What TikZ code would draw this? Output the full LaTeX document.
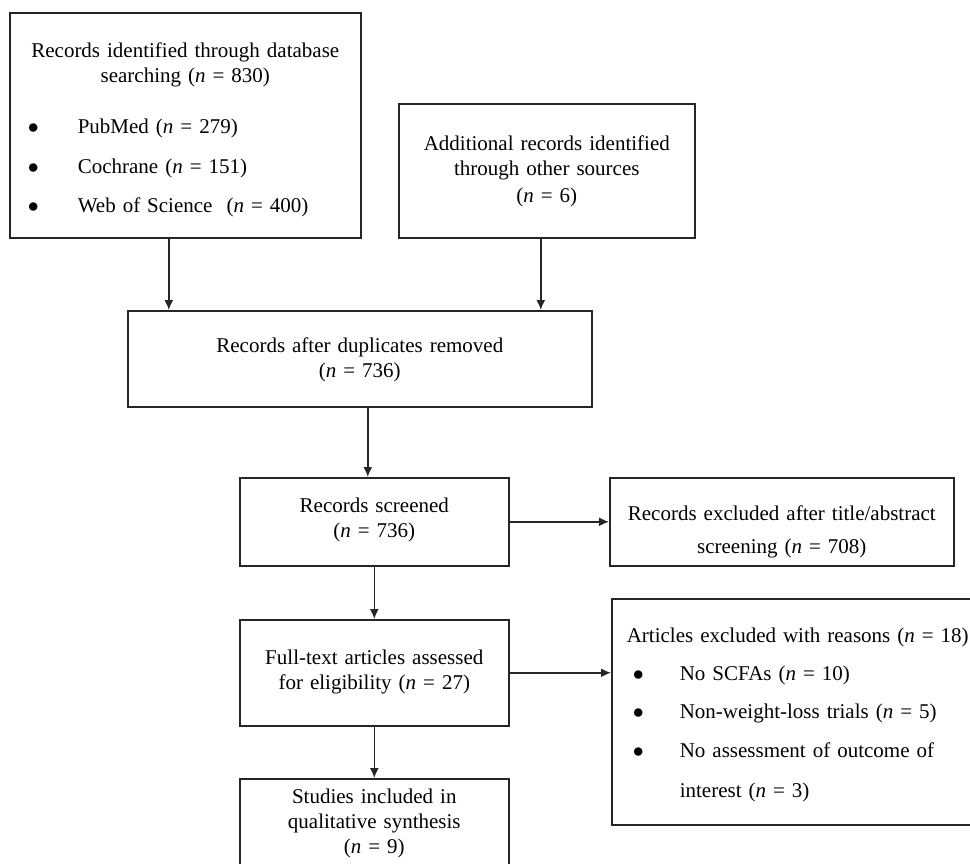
\documentclass[tikz,border=0pt]{standalone}
\usepackage{fontspec}
\setmainfont{Liberation Serif}
\usetikzlibrary{positioning,arrows.meta,calc}

% sample size in italics
\newcommand{\nval}[1]{(\textit{n} = #1)}
% bullet line: bullet indented by #1, text starts 34pt from the frame
\newcommand{\bitem}[2]{\makebox[\hsize][l]{\hspace*{#1}\makebox[\dimexpr34pt-#1\relax][l]{$\bullet$}#2}}

\begin{document}
\begin{tikzpicture}[
    x=0.5pt, y=-0.5pt,
    box/.style={draw=black!85, line width=0.8pt, inner sep=0pt, anchor=north west,
        align=center, font=\fontsize{10.5}{12.5}\selectfont},
    link/.style={->, draw=black!85, line width=0.8pt},
    >={Latex[length=5pt,width=4.5pt]}
]
    \useasboundingbox (0,0) rectangle (970,863);
    \clip (0,0) rectangle (970,863);

    % identification
    \node[box, text width=175.5pt, text height=22.5pt, text depth=90pt] (db) at (9,12)
        {Records identified through database\\ searching \nval{830}\\[13pt]
         \bitem{9pt}{PubMed \nval{279}}\\[7.5pt]
         \bitem{9pt}{Cochrane \nval{151}}\\[7pt]
         \bitem{9pt}{Web of Science\ \ \nval{400}}};
    \node[box, text width=148pt, text height=23.5pt, text depth=43.5pt] (other) at (398,103)
        {Additional records identified\\ through other sources\\[1pt] \nval{6}};

    % screening
    \node[box, text width=232pt, text height=21pt, text depth=27pt] (dup) at (127,310)
        {Records after duplicates removed\\ \nval{736}};
    \node[box, text width=134.5pt, text height=17.5pt, text depth=26.5pt] (scr) at (239,477)
        {Records screened\\ \nval{736}};
    \node[box, text width=172pt, text height=21.5pt, text depth=22.5pt] (excl) at (609,477)
        {Records excluded after title/abstract\\[4pt] screening \nval{708}};

    % eligibility and inclusion
    \node[box, text width=134.5pt, text height=22.5pt, text depth=30.5pt] (full) at (239,619)
        {Full-text articles assessed\\ for eligibility \nval{27}};
    \node[box, text width=187pt, text height=22pt, text depth=91pt] (rsn) at (611,598)
        {\makebox[\hsize][l]{\hspace*{7.5pt}Articles excluded with reasons \nval{18}}\\[6.5pt]
         \bitem{10.5pt}{No SCFAs \nval{10}}\\[6.5pt]
         \bitem{10.5pt}{Non-weight-loss trials \nval{5}}\\[7pt]
         \bitem{10.5pt}{No assessment of outcome of}\\[7.5pt]
         \makebox[\hsize][l]{\hspace*{34pt}interest \nval{3}}};
    \node[box, text width=134.5pt, text height=12.5pt, text depth=38.5pt] (incl) at (239,778)
        {Studies included in\\ qualitative synthesis\\ \nval{9}};

    \coordinate (dbout) at ([xshift=-8.25pt]db.south);
    \coordinate (otherout) at ([xshift=-3pt]other.south);
    \coordinate (dupout) at ([xshift=4pt]dup.south);

    \draw[link] (dbout) -- (dbout |- dup.north);
    \draw[link] (otherout) -- (otherout |- dup.north);
    \draw[link] (dupout) -- (dupout |- scr.north);
    \draw[link] (scr.east) -- (scr.east -| excl.west);
    \draw[link] (scr.south) -- (full.north);
    \draw[link] (full.east) -- (full.east -| rsn.west);
    \draw[link] (full.south) -- (incl.north);
\end{tikzpicture}
\end{document}
